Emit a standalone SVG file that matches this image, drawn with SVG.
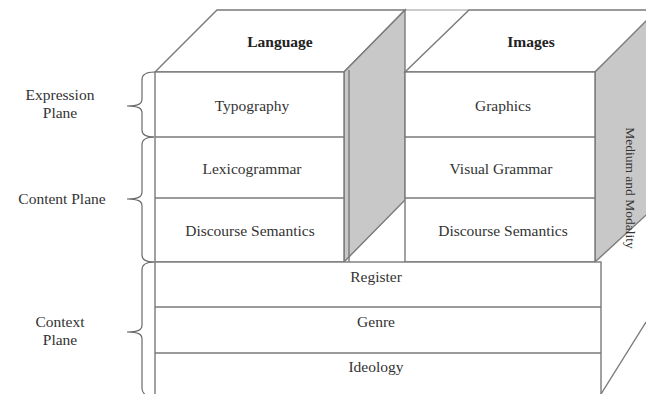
<svg xmlns="http://www.w3.org/2000/svg" width="646" height="394" viewBox="0 0 646 394">
<style>
.ln{fill:none;stroke:#7a7a7a;stroke-width:1.4}
.face{fill:#fff;stroke:#7a7a7a;stroke-width:1.4}
.side{fill:#c8c8c8;stroke:#7a7a7a;stroke-width:1.4}
.br{fill:none;stroke:#6a6a6a;stroke-width:1.2}
text{font-family:"Liberation Serif","Times New Roman",serif;font-size:15.5px;fill:#333;text-anchor:middle}
.b{font-weight:bold;fill:#222}
</style>
<rect width="646" height="394" fill="#fff"/>
<g id="language">
  <polygon class="face" points="155,72 217,10 405,10 344,72"/>
  <polygon class="side" points="344,72 405,10 405,200 344,262"/>
  <line class="ln" x1="349" y1="70" x2="349" y2="262"/>
  <rect class="face" x="155" y="72" width="189" height="190"/>
  <line class="ln" x1="155" y1="137" x2="344" y2="137"/>
  <line class="ln" x1="155" y1="198" x2="344" y2="198"/>
  <text class="b" x="280" y="47">Language</text>
  <text x="252" y="111">Typography</text>
  <text x="252" y="174">Lexicogrammar</text>
  <text x="250" y="236">Discourse Semantics</text>
</g>
<g id="images">
  <line class="ln" x1="405" y1="10" x2="469" y2="10" stroke-opacity="0.5"/>
  <polygon class="face" points="405,72 469,10 660,10 595,72"/>
  <polygon class="side" points="595,72 657,10 657,205 595,262"/>
  <rect class="face" x="405" y="72" width="190" height="190"/>
  <line class="ln" x1="405" y1="137" x2="595" y2="137"/>
  <line class="ln" x1="405" y1="198" x2="595" y2="198"/>
  <text class="b" x="531" y="47">Images</text>
  <text x="503" y="111">Graphics</text>
  <text x="501" y="174">Visual Grammar</text>
  <text x="503" y="236">Discourse Semantics</text>
  <text transform="translate(626,188) rotate(90)" style="font-size:13.5px">Medium and Modality</text>
</g>
<g id="context">
  <rect class="face" x="155" y="262" width="446" height="150"/>
  <line class="ln" x1="155" y1="307" x2="601" y2="307"/>
  <line class="ln" x1="155" y1="353" x2="601" y2="353"/>
  <line class="ln" x1="601" y1="394" x2="646" y2="322"/>
  <text x="376" y="282">Register</text>
  <text x="376" y="327">Genre</text>
  <text x="376" y="372">Ideology</text>
</g>
<g id="connectors">
  <path class="br" d="M154,72 C146,72 142,74 142,80 L142,99 C142,104 138,106 127,106 C138,106 142,108 142,113 L142,130 C142,135 146,137 154,137"/>
  <path class="br" d="M154,137 C146,137 142,139 142,145 L142,192 C142,197 138,199 127,199 C138,199 142,201 142,206 L142,255 C142,260 146,262 154,262"/>
  <path class="br" d="M154,262 C146,262 142,264 142,270 L142,325 C142,330 138,332 127,332 C138,332 142,334 142,339 L142,388 C142,394 146,396 154,397"/>
</g>
<g id="plane-labels">
  <text x="60" y="100">Expression</text>
  <text x="60" y="118">Plane</text>
  <text x="62" y="204">Content Plane</text>
  <text x="60" y="327">Context</text>
  <text x="60" y="345">Plane</text>
</g>
</svg>
